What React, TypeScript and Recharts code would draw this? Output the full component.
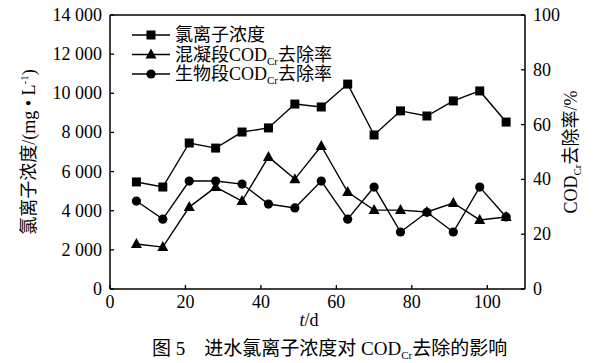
import { ComposedChart, Line, XAxis, YAxis, ReferenceLine } from 'recharts'

const days = [7, 14, 21, 28, 35, 42, 49, 56, 63, 70, 77, 84, 91, 98, 105]
const chloride = [5470, 5210, 7460, 7200, 8020, 8230, 9450, 9300, 10470, 7870, 9100, 8840, 9610, 10120, 8530]
const coagRemoval = [16.4, 15.3, 29.9, 37.2, 32.1, 48.2, 40.1, 52.2, 35.4, 28.8, 28.8, 28.1, 31.4, 25.2, 26.3]
const bioRemoval = [32.1, 25.5, 39.4, 39.4, 38.3, 31.0, 29.6, 39.4, 25.5, 37.2, 20.8, 28.0, 20.8, 37.2, 26.3]

const xTicks = [0, 20, 40, 60, 80, 100]
const leftTicks = [0, 2000, 4000, 6000, 8000, 10000, 12000, 14000]
const rightTicks = [0, 20, 40, 60, 80, 100]

const data = days.map((d, i) => ({
  day: d,
  chloride: chloride[i],
  coag: coagRemoval[i],
  bio: bioRemoval[i],
}))

const FONT = "'Liberation Serif', 'Times New Roman', 'Noto Sans CJK SC', serif"
const TICK_LEN = 4

const fmtThousands = (v: number) => (v >= 1000 ? `${Math.floor(v / 1000)} 000` : `${v}`)

const BottomTick = ({ x, y, payload }: any) => (
  <g>
    <line x1={x} y1={y} x2={x} y2={y - TICK_LEN} stroke="#000" strokeWidth={1.3} />
    <text x={x} y={y + 19} textAnchor="middle" fontSize={18} fontFamily={FONT} fill="#000">
      {payload.value}
    </text>
  </g>
)

const LeftTick = ({ x, y, payload }: any) => (
  <g>
    <line x1={x} y1={y} x2={x + TICK_LEN} y2={y} stroke="#000" strokeWidth={1.3} />
    <text x={x - 8} y={y + 6} textAnchor="end" fontSize={18} fontFamily={FONT} fill="#000">
      {fmtThousands(payload.value)}
    </text>
  </g>
)

const RightTick = ({ x, y, payload }: any) => (
  <g>
    <line x1={x} y1={y} x2={x - TICK_LEN} y2={y} stroke="#000" strokeWidth={1.3} />
    <text x={x + 8} y={y + 6} textAnchor="start" fontSize={18} fontFamily={FONT} fill="#000">
      {payload.value}
    </text>
  </g>
)

const Square = ({ cx, cy }: any) =>
  cx == null ? null : <rect x={cx - 4.5} y={cy - 4.5} width={9} height={9} fill="#000" />

const Triangle = ({ cx, cy }: any) =>
  cx == null ? null : (
    <polygon points={`${cx},${cy - 6} ${cx - 5.5},${cy + 4} ${cx + 5.5},${cy + 4}`} fill="#000" />
  )

const Circle = ({ cx, cy }: any) =>
  cx == null ? null : <circle cx={cx} cy={cy} r={4.6} fill="#000" />

const legendItems = [
  { name: '氯离子浓度', shape: 'square' },
  { name: '混凝段COD', sub: 'Cr', rest: '去除率', shape: 'triangle' },
  { name: '生物段COD', sub: 'Cr', rest: '去除率', shape: 'circle' },
]

function LegendMarker({ shape, cx, cy }: { shape: string; cx: number; cy: number }) {
  if (shape === 'square') return <Square cx={cx} cy={cy} />
  if (shape === 'triangle') return <Triangle cx={cx} cy={cy} />
  return <Circle cx={cx} cy={cy} />
}

export default function App() {
  const rows = [35, 54.5, 74]
  return (
    <div style={{ position: 'relative', width: 597, height: 363, background: '#fff' }}>
      <style>{`body{margin:0}`}</style>
      <ComposedChart
        width={597}
        height={363}
        data={data}
        margin={{ top: 15, right: 22, bottom: 44, left: 50 }}
      >
        <XAxis
          dataKey="day"
          type="number"
          domain={[0, 110]}
          ticks={xTicks}
          height={30}
          tickSize={0}
          tickMargin={0}
          tickLine={false}
          tick={<BottomTick />}
          axisLine={{ stroke: '#000', strokeWidth: 1.5 }}
          allowDataOverflow
        />
        <YAxis
          yAxisId="left"
          domain={[0, 14000]}
          ticks={leftTicks}
          width={60}
          tickSize={0}
          tickMargin={0}
          tickLine={false}
          tick={<LeftTick />}
          axisLine={{ stroke: '#000', strokeWidth: 1.5 }}
          interval={0}
        />
        <YAxis
          yAxisId="right"
          orientation="right"
          domain={[0, 100]}
          ticks={rightTicks}
          width={50}
          tickSize={0}
          tickMargin={0}
          tickLine={false}
          tick={<RightTick />}
          axisLine={{ stroke: '#000', strokeWidth: 1.5 }}
          interval={0}
        />
        <ReferenceLine yAxisId="left" y={14000} stroke="#000" strokeWidth={1.5} />
        <Line
          yAxisId="left"
          dataKey="chloride"
          stroke="#000"
          strokeWidth={1.4}
          dot={<Square />}
          activeDot={false}
          isAnimationActive={false}
        />
        <Line
          yAxisId="right"
          dataKey="coag"
          stroke="#000"
          strokeWidth={1.4}
          dot={<Triangle />}
          activeDot={false}
          isAnimationActive={false}
        />
        <Line
          yAxisId="right"
          dataKey="bio"
          stroke="#000"
          strokeWidth={1.4}
          dot={<Circle />}
          activeDot={false}
          isAnimationActive={false}
        />
      </ComposedChart>
      <svg
        width={597}
        height={363}
        style={{ position: 'absolute', left: 0, top: 0, pointerEvents: 'none' }}
        fontFamily={FONT}
      >
        {legendItems.map((item, i) => (
          <g key={item.name}>
            <line x1={132} y1={rows[i]} x2={170} y2={rows[i]} stroke="#000" strokeWidth={1.4} />
            <LegendMarker shape={item.shape} cx={151} cy={rows[i]} />
            <text x={175} y={rows[i] + 6} fontSize={18} fill="#000">
              {item.name}
              {item.sub && (
                <tspan fontSize={11} dy={4}>
                  {item.sub}
                </tspan>
              )}
              {item.rest && <tspan dy={-4}>{item.rest}</tspan>}
            </text>
          </g>
        ))}
        <text
          transform="translate(35,152) rotate(-90)"
          textAnchor="middle"
          fontSize={18}
          fill="#000"
        >
          氯离子浓度/(mg • L
          <tspan fontSize={11} dy={-7}>
            -1
          </tspan>
          <tspan dy={7}>)</tspan>
        </text>
        <text
          transform="translate(577,152) rotate(-90)"
          textAnchor="middle"
          fontSize={18}
          fill="#000"
        >
          COD
          <tspan fontSize={11} dy={4}>
            Cr
          </tspan>
          <tspan dy={-4}>去除率/%</tspan>
        </text>
        <text x={309} y={326} textAnchor="middle" fontSize={18} fill="#000">
          <tspan fontStyle="italic">t</tspan>/d
        </text>
        <text x={152} y={355} fontSize={19} fill="#000">
          图 5{'\u3000'}进水氯离子浓度对 COD
          <tspan fontSize={11} dy={4}>
            Cr
          </tspan>
          <tspan dy={-4}>去除的影响</tspan>
        </text>
      </svg>
    </div>
  )
}
